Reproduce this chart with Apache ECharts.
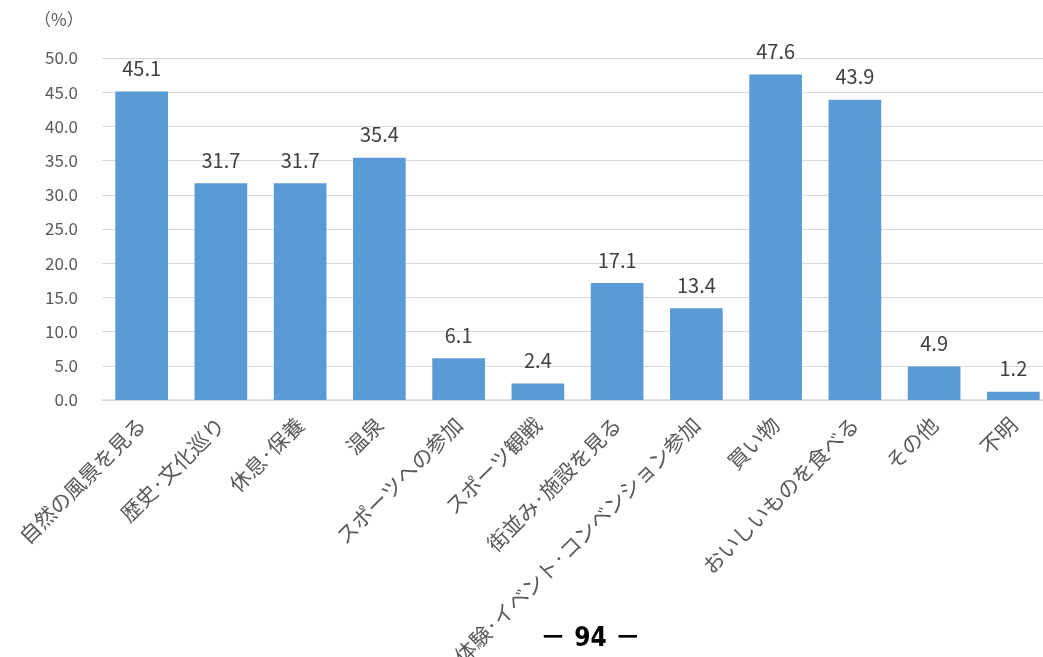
<!DOCTYPE html>
<html><head><meta charset="utf-8">
<script src="https://cdn.jsdelivr.net/npm/echarts@6/dist/echarts.min.js"></script>
<style>html,body{margin:0;padding:0;background:#fff}#c{width:1043px;height:657px}</style>
</head><body><div id="c"></div>
<script>
const categories = ["自然の風景を見る","歴史・文化巡り","休息・保養","温泉","スポーツへの参加","スポーツ観戦","街並み・施設を見る","体験・イベント・コンベンション参加","買い物","おいしいものを食べる","その他","不明"];
const values = [45.1,31.7,31.7,35.4,6.1,2.4,17.1,13.4,47.6,43.9,4.9,1.2];
const yMin = 0, yMax = 50, yStep = 5;
const unitLabel = "（%）";
const pageLabel = "－ 94 －";

const font = '"Noto Sans CJK JP", "Noto Sans", sans-serif';
const chart = echarts.init(document.getElementById('c'));
chart.setOption({
  animation:false,
  grid:{left:102, top:58, width:951, bottom:257, containLabel:false, outerBoundsMode:'none'},
  xAxis:{type:'category', data:categories,
    axisLine:{lineStyle:{color:'#D9D9D9', width:1.5}},
    axisTick:{show:false},
    axisLabel:{rotate:45, interval:0, color:'#595959', fontSize:21, fontFamily:font, margin:21,
      formatter:v=>v.split('・').join('{d|・}'),
      rich:{d:{fontSize:11, fontFamily:font, color:'#595959', fontWeight:'bold'}}}},
  yAxis:{type:'value', min:yMin, max:yMax, interval:yStep,
    axisLine:{show:false}, axisTick:{show:false},
    splitLine:{lineStyle:{color:'#D9D9D9', width:1}},
    axisLabel:{color:'#595959', fontSize:17, fontFamily:font, margin:24,
      formatter:v=>v.toFixed(1)}},
  series:[{type:'bar', data:values, barWidth:'66.5%',
    itemStyle:{color:'#5B9BD5'},
    label:{show:true, position:'top', distance:13, color:'#404040', fontSize:20, fontFamily:font,
      formatter:p=>p.value.toFixed(1)}}],
  graphic:[
    {type:'text', left:34, top:11, style:{text:unitLabel, fill:'#595959', font:'17px '+font}},
    {type:'text', left:540, top:626, style:{text:pageLabel, fill:'#000', font:'bold 26px "DejaVu Sans Condensed", "Noto Sans CJK JP", sans-serif'}}
  ]
});
</script></body></html>
